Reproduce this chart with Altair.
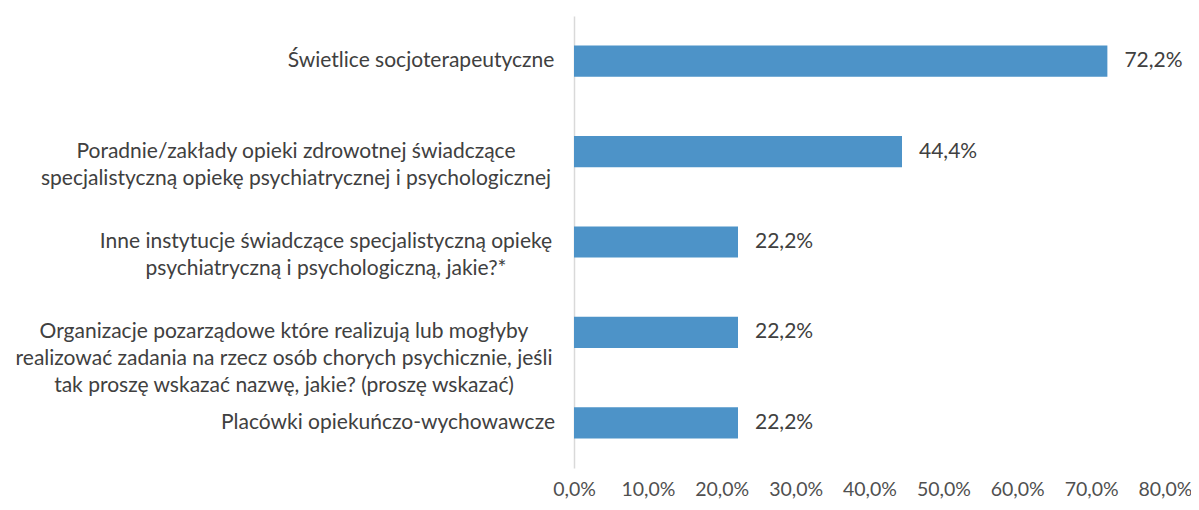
import altair as alt
import pandas as pd

# ---- data ----
categories = [
    "Świetlice socjoterapeutyczne",
    "Poradnie/zakłady opieki zdrowotnej świadczące\nspecjalistyczną opiekę psychiatrycznej i psychologicznej",
    "Inne instytucje świadczące specjalistyczną opiekę\npsychiatryczną i psychologiczną, jakie?*",
    "Organizacje pozarządowe które realizują lub mogłyby\nrealizować zadania na rzecz osób chorych psychicznie, jeśli\ntak proszę wskazać nazwę, jakie? (proszę wskazać)",
    "Placówki opiekuńczo-wychowawcze",
]
values = [72.2, 44.4, 22.2, 22.2, 22.2]
x_ticks = [0, 10, 20, 30, 40, 50, 60, 70, 80]

# ---- style ----
FONT = "Lato"
FS = 21
TEXT_COLOR = "#404040"
BAR_COLOR = "#4d93c8"
# horizontal centre of each category label block, in px relative to the y axis
LABEL_CENTER = [-153, -278, -248, -290, -186]

df = pd.DataFrame({
    "cat": categories,
    "val": values,
    "lab": [c.replace("\n", "\\n") for c in categories],
    "labx": LABEL_CENTER,
    "vtxt": [f"{v:.1f}".replace(".", ",") + "%" for v in values],
})

order = categories
y_enc = alt.Y("cat:N", sort=order,
              scale=alt.Scale(paddingInner=0.655, paddingOuter=0.3275),
              axis=alt.Axis(labels=False, ticks=False, title=None,
                            domain=True, domainColor="#d9d9d9", domainWidth=1.5,
                            grid=False))
x_enc = alt.X("val:Q", scale=alt.Scale(domain=[0, 80], nice=False),
              axis=alt.Axis(values=x_ticks, title=None, grid=False, domain=False,
                            ticks=False, tickSize=0, labelPadding=12,
                            labelOverlap=False, labelFlush=False,
                            labelExpr="replace(format(datum.value, '.1f'), '.', ',') + '%'",
                            labelFont=FONT, labelFontSize=19.5, labelColor="#505050"))

base = alt.Chart(df)

bars = base.mark_bar(color=BAR_COLOR).encode(x=x_enc, y=y_enc)

vlabels = base.mark_text(align="left", baseline="middle", dx=17, font=FONT,
                         fontSize=FS, color=TEXT_COLOR).encode(
    x="val:Q", y=alt.Y("cat:N", sort=order), text="vtxt:N")

clabels = base.mark_text(align="center", baseline="middle", font=FONT,
                         fontSize=FS, color=TEXT_COLOR, lineBreak="\\n",
                         lineHeight=27).encode(
    x=alt.X("labx:Q", scale=None),
    y=alt.Y("cat:N", sort=order), text="lab:N")

chart = alt.layer(bars, vlabels, clabels).properties(
    width=591, height=452,
    padding={"left": 566, "top": 8, "right": 26, "bottom": 34},
    autosize=alt.AutoSizeParams(type="none"),
).configure(background="white").configure_view(stroke=None)

chart.save("out.html", embed_options={"renderer": "svg", "actions": False})
